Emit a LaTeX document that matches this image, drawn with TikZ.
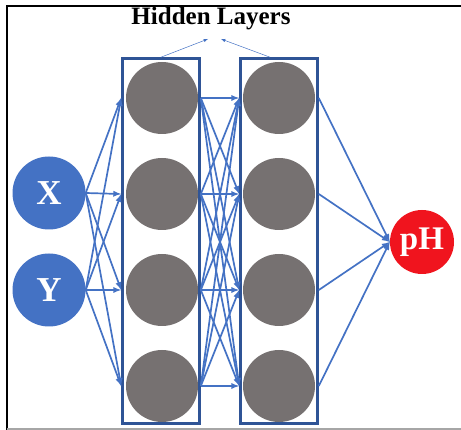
\documentclass[tikz,border=0pt]{standalone}
\usepackage{fontspec}
\setmainfont{Liberation Serif}
\usetikzlibrary{positioning,arrows}
\definecolor{linkblue}{RGB}{68,114,196}
\definecolor{boxblue}{RGB}{47,84,150}
\definecolor{neurongray}{RGB}{118,113,113}
\definecolor{outred}{RGB}{240,20,30}

\begin{document}
\begin{tikzpicture}[
	x=1pt,
	y=-1pt,
	neuron/.style={
		circle,
		fill=neurongray,
		minimum size=72pt,
		inner sep=0pt
	},
	unit/.style={
		circle,
		inner sep=0pt,
		text=white,
		font=\bfseries\fontsize{35}{35}\selectfont
	},
	layer/.style={
		draw=boxblue,
		line width=2.6pt,
		minimum width=77pt,
		minimum height=365pt
	},
	link/.style={
		draw=linkblue,
		line width=1.7pt,
		->
	},
	pointer/.style={
		draw=linkblue,
		line width=0.5pt,
		->
	},
	>=latex
	]
	\useasboundingbox (0,0) rectangle (461,430);
	% frame
	\draw[black, line width=2.5pt] (7,430) -- (7,6) -- (461,6);
	\draw[black!35, line width=1.5pt] (7,429) -- (461,429);
	% hidden layers
	\foreach \y [count=\i] in {98,194,290,386}
	{
		\node[neuron] (h1-\i) at (162,\y) {};
		\node[neuron] (h2-\i) at (279,\y) {};
	}
	\node[layer] (box1) at (161,241) {};
	\node[layer] (box2) at (279,241) {};
	% inputs and output
	\node[unit, fill=linkblue, minimum size=73pt] (X) at (49,193) {X};
	\node[unit, fill=linkblue, minimum size=73pt] (Y) at (49,290) {Y};
	\node[unit, fill=outred, minimum size=64pt, font=\bfseries\fontsize{33}{33}\selectfont] (pH) at (422,242) {pH};
	\node[font=\bfseries\fontsize{25}{25}\selectfont] (title) at (211,19) {Hidden Layers};
	\coordinate (tip1) at (208,39);
	\coordinate (tip2) at (221,39);
	\draw[pointer] (box1.north) -- (tip1);
	\draw[pointer] ([xshift=-9pt]box2.north) -- (tip2);
	% connections
	\foreach \i in {1,...,4}
	{\foreach \n in {X,Y}
		\draw[link] (\n.east) -- (box1.west |- h1-\i);
	 \foreach \j in {1,...,4}
		\draw[link] (box1.east |- h1-\i) -- (box2.west |- h2-\j);
	 \draw[link] (box2.east |- h2-\i) -- (pH.west);
	}
\end{tikzpicture}
\end{document}
